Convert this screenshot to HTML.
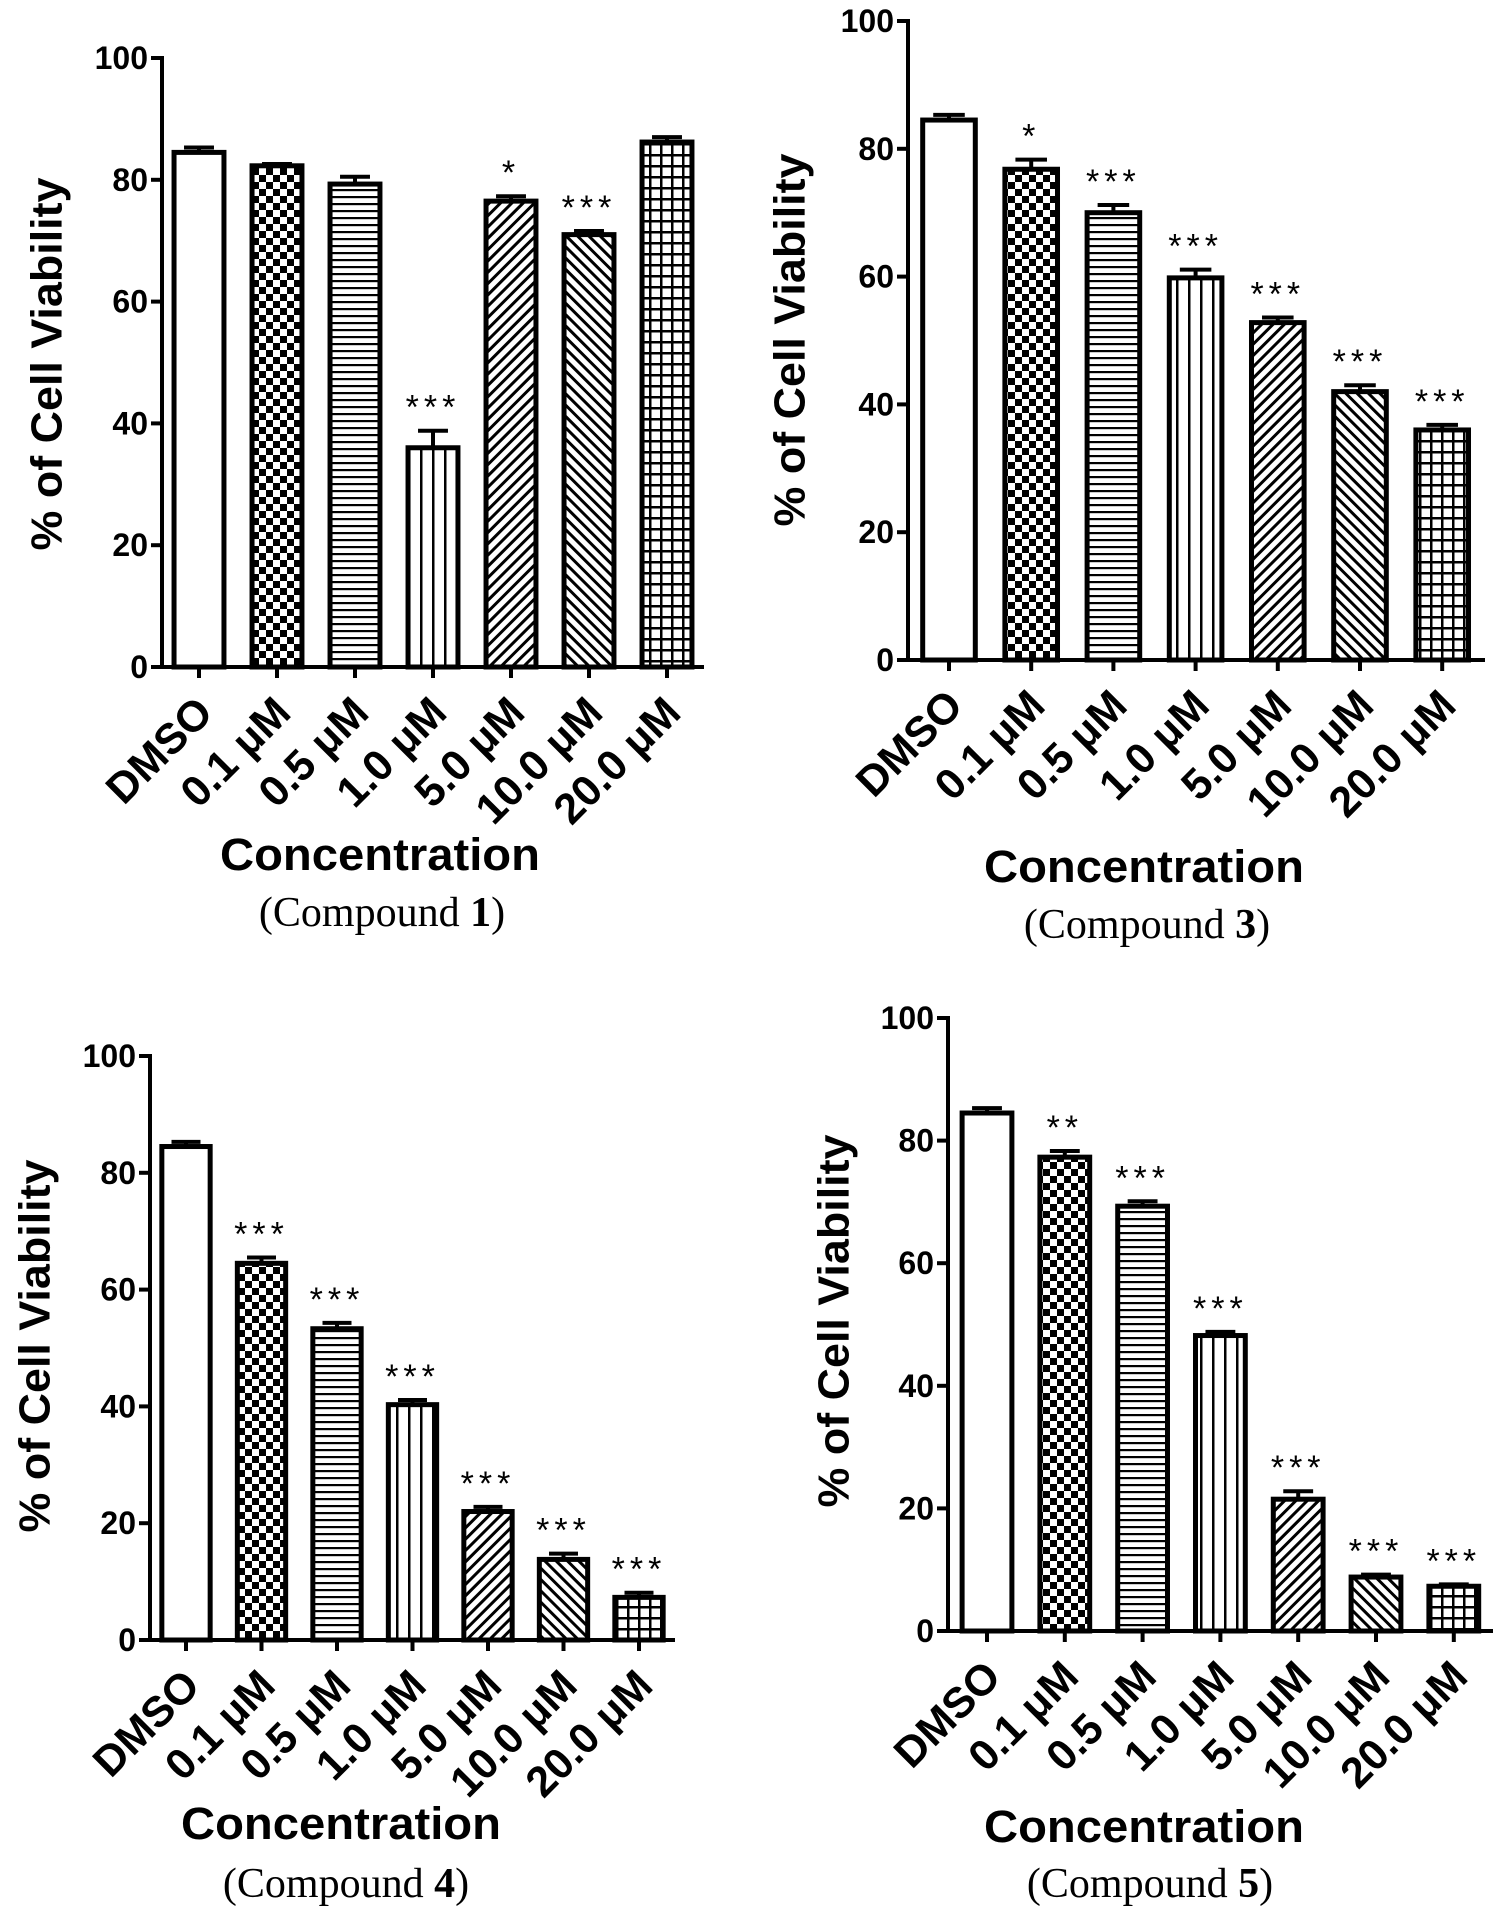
<!DOCTYPE html>
<html><head><meta charset="utf-8">
<style>
html,body{margin:0;padding:0;background:#fff;}
svg{display:block;}
</style></head>
<body>
<svg id="fig" width="1497" height="1917" viewBox="0 0 1497 1917" xmlns="http://www.w3.org/2000/svg">
<defs>
  <pattern id="p-check" patternUnits="userSpaceOnUse" width="14" height="14">
    <rect width="14" height="14" fill="#fff"/>
    <rect width="7" height="7" fill="#000"/><rect x="7" y="7" width="7" height="7" fill="#000"/>
  </pattern>
  <pattern id="p-hline" patternUnits="userSpaceOnUse" width="8" height="7">
    <rect width="8" height="7" fill="#fff"/><rect y="0" width="8" height="2.2" fill="#000"/>
  </pattern>
  <pattern id="p-vline" patternUnits="userSpaceOnUse" width="12" height="8">
    <rect width="12" height="8" fill="#fff"/><rect x="0" width="2.5" height="8" fill="#000"/>
  </pattern>
  <pattern id="p-diag1" patternUnits="userSpaceOnUse" width="8" height="8" patternTransform="rotate(45)">
    <rect width="8" height="8" fill="#fff"/><rect width="3" height="8" fill="#000"/>
  </pattern>
  <pattern id="p-diag2" patternUnits="userSpaceOnUse" width="8" height="8" patternTransform="rotate(-45)">
    <rect width="8" height="8" fill="#fff"/><rect width="3" height="8" fill="#000"/>
  </pattern>
  <pattern id="p-grid" patternUnits="userSpaceOnUse" width="11" height="11">
    <rect width="11" height="11" fill="#fff"/><rect width="2.5" height="11" fill="#000"/><rect width="11" height="2.5" fill="#000"/>
  </pattern>
</defs>
</svg>
<script>
const categories = ["DMSO","0.1  μM","0.5  μM","1.0 μM","5.0 μM","10.0 μM","20.0 μM"];
const yTicks = [0,20,40,60,80,100];
const values1 = [84.5,82.3,79.3,36.0,76.5,71.0,86.2];
const errors1 = [0.8,0.3,1.2,2.8,0.8,0.6,0.8];
const stars1 = ["","","","***","*","***",""];
const values3 = [84.5,76.8,70.0,59.8,52.8,42.0,36.0];
const errors3 = [0.8,1.5,1.2,1.3,0.8,1.0,0.8];
const stars3 = ["","*","***","***","***","***","***"];
const values4 = [84.5,64.5,53.3,40.3,22.0,13.8,7.3];
const errors4 = [0.8,1.0,1.0,0.8,0.8,1.0,0.8];
const stars4 = ["","***","***","***","***","***","***"];
const values5 = [84.5,77.3,69.3,48.2,21.5,8.8,7.3];
const errors5 = [0.8,1.0,0.8,0.6,1.3,0.4,0.3];
const stars5 = ["","**","***","***","***","***","***"];
const fills = ["#fff","url(#p-check)","url(#p-hline)","url(#p-vline)","url(#p-diag1)","url(#p-diag2)","url(#p-grid)"];

const NS = "http://www.w3.org/2000/svg";
const svg = document.getElementById("fig");
function mk(tag, attrs, parent){
  const e = document.createElementNS(NS, tag);
  for (const k in attrs) e.setAttribute(k, attrs[k]);
  (parent||svg).appendChild(e);
  return e;
}
function panel(cfg, values, errors, stars, label){
  const g = mk("g", {});
  
  
  const yScale = v => cfg.y0 - (cfg.y0 - cfg.y100) * v / 100;
  const xScale = i => cfg.x0c + i * cfg.step;
  const bw = cfg.step * 0.64;
  values.forEach((v,i)=>{
    const cx = xScale(i), top = yScale(v), et = yScale(v + errors[i]);
    const eb = mk("line",{x1:cx,x2:cx,y1:top,y2:et,stroke:"#000","stroke-width":4},g);
    
    
    const cap = mk("line",{x1:cx-bw*0.3,x2:cx+bw*0.3,y1:et,y2:et,stroke:"#000","stroke-width":4},g);
    
    
    const r = mk("rect",{x:cx-bw/2,y:top,width:bw,height:cfg.y0-top,fill:fills[i],stroke:"#000","stroke-width":5},g);
    
    
    if (stars[i]) {
      const s = mk("text",{x:cx,y:et-12,"text-anchor":"middle","font-family":"Liberation Sans, sans-serif","font-size":34,"letter-spacing":"5"},g);
      s.textContent = stars[i];
      
      
    }
  });
  const ya = mk("line",{x1:cfg.ax,x2:cfg.ax,y1:cfg.y100-2,y2:cfg.y0+2,stroke:"#000","stroke-width":4},g);
  
  
  const xa = mk("line",{x1:cfg.ax-2,x2:cfg.xend,y1:cfg.y0,y2:cfg.y0,stroke:"#000","stroke-width":4},g);
  
  
  yTicks.forEach(t=>{
    const y = yScale(t);
    mk("line",{x1:cfg.ax-11,x2:cfg.ax,y1:y,y2:y,stroke:"#000","stroke-width":4},g);
    const tl = mk("text",{x:cfg.ax-14,y:y+11,"text-anchor":"end","font-family":"Liberation Sans, sans-serif","font-weight":"bold","font-size":32},g);
    tl.textContent = t;
    
    
  });
  categories.forEach((c,i)=>{
    const x = xScale(i);
    mk("line",{x1:x,x2:x,y1:cfg.y0,y2:cfg.y0+11,stroke:"#000","stroke-width":4},g);
    const ax = x + 16, ay = cfg.y0 + 48;
    const tl = mk("text",{x:ax,y:ay,"text-anchor":"end","font-family":"Liberation Sans, sans-serif","font-weight":"bold","font-size":43,transform:`rotate(-45 ${ax} ${ay})`},g);
    tl.textContent = c;
    
    
  });
  const yt = mk("text",{x:cfg.ytx,y:cfg.yty,"text-anchor":"middle","font-family":"Liberation Sans, sans-serif","font-weight":"bold","font-size":44,textLength:373,lengthAdjust:"spacingAndGlyphs",transform:`rotate(-90 ${cfg.ytx} ${cfg.yty})`,"dominant-baseline":"middle"},g);
  yt.textContent = "% of Cell Viability";
  
  
  const xt = mk("text",{x:cfg.cx,y:cfg.cy,"text-anchor":"middle","font-family":"Liberation Sans, sans-serif","font-weight":"bold","font-size":45,textLength:320,lengthAdjust:"spacingAndGlyphs"},g);
  xt.textContent = "Concentration";
  
  
  const ct = mk("text",{x:cfg.cpx,y:cfg.cpy,"text-anchor":"middle","font-family":"Liberation Serif, serif","font-size":42},g);
  ct.appendChild(document.createTextNode("(Compound "));
  const b = mk("tspan",{"font-weight":"bold"},ct); b.textContent = label;
  ct.appendChild(document.createTextNode(")"));
  
  
}
panel({ax:162,y0:667,y100:58,xend:704,x0c:199,step:78,ytx:50,yty:364,cx:380,cy:870,cpx:382,cpy:926}, values1, errors1, stars1, "1");
panel({ax:908,y0:660,y100:21,xend:1485,x0c:949,step:82.2,ytx:793,yty:340,cx:1144,cy:882,cpx:1147,cpy:938}, values3, errors3, stars3, "3");
panel({ax:150,y0:1640,y100:1056,xend:675,x0c:186,step:75.5,ytx:38,yty:1346,cx:341,cy:1839,cpx:346,cpy:1897}, values4, errors4, stars4, "4");
panel({ax:948,y0:1631,y100:1018,xend:1493,x0c:987,step:77.8,ytx:837,yty:1321,cx:1144,cy:1842,cpx:1150,cpy:1897}, values5, errors5, stars5, "5");
</script>
</body></html>
